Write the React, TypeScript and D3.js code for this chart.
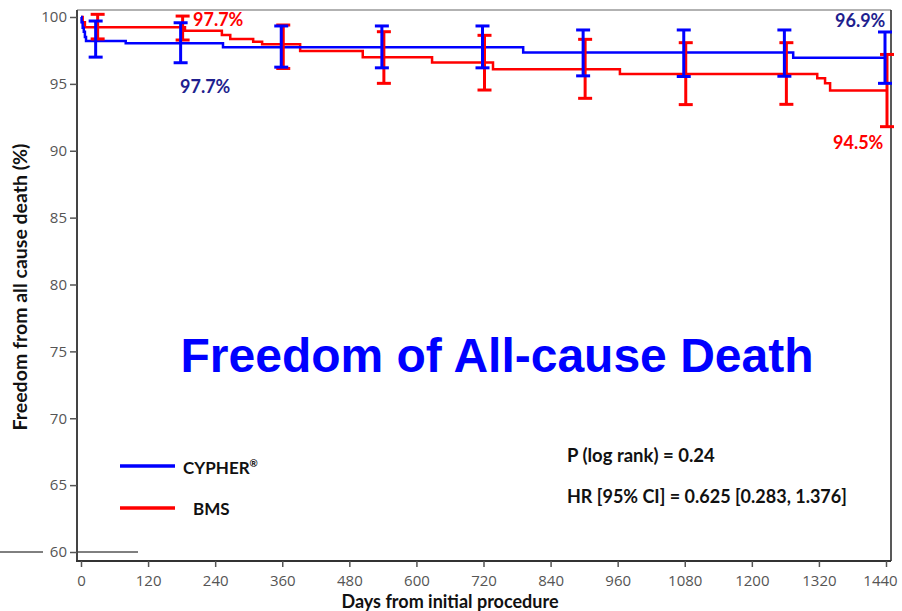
import { useEffect, useRef } from "react";
import * as d3 from "d3";

// tick values
const dayTicks = [0, 120, 240, 360, 480, 600, 720, 840, 960, 1080, 1200, 1320, 1440];
const pctTicks = [60, 65, 70, 75, 80, 85, 90, 95, 100];

// Kaplan-Meier steps, CYPHER
const cypherDays = [0, 1, 3, 5, 7, 9, 80, 254, 791, 1274, 1440];
const cypherSurv = [100, 99.6, 99.2, 98.9, 98.5, 98.2, 98.03, 97.73, 97.35, 96.95, 96.95];

// Kaplan-Meier steps, BMS
const bmsDays = [0, 3, 7, 186, 252, 267, 308, 324, 392, 504, 628, 737, 964, 1317, 1331, 1340, 1440];
const bmsSurv = [100, 99.6, 99.23, 98.98, 98.65, 98.36, 98.15, 97.96, 97.46, 97.0, 96.6, 96.1, 95.74, 95.42, 95.04, 94.5, 94.5];

// 95% CI bars
const ciDays = [28, 180, 360, 540, 720, 900, 1080, 1260, 1440];
const cypherUpper = [99.7, 99.57, 99.33, 99.33, 99.33, 99.03, 99.03, 99.03, 98.88];
const cypherLower = [97.0, 96.58, 96.25, 96.2, 96.2, 95.6, 95.55, 95.57, 95.04];
const bmsUpper = [100.2, 100.07, 99.4, 98.9, 98.63, 98.33, 98.08, 98.08, 97.2];
const bmsLower = [98.36, 98.28, 96.15, 95.04, 94.54, 93.92, 93.45, 93.47, 91.8];

const BLUE = "#0000ff";
const RED = "#ff0000";
const NAVY = "#1f1f8f";

export default function App() {
  const svgRef = useRef<SVGSVGElement>(null);

  useEffect(() => {
    const svg = d3.select(svgRef.current);
    svg.selectAll("*").remove();

    const x = d3.scaleLinear().domain([0, 1440]).range([81, 886]);
    const y = d3.scaleLinear().domain([60, 100]).range([552, 17]);

    // frame
    svg.append("line").attr("x1", 77).attr("x2", 891).attr("y1", 10).attr("y2", 10)
      .attr("stroke", "#999").attr("stroke-width", 1.5);
    svg.append("line").attr("x1", 891).attr("x2", 891).attr("y1", 10).attr("y2", 561)
      .attr("stroke", "#222").attr("stroke-width", 1.5);
    svg.append("line").attr("x1", 77).attr("x2", 77).attr("y1", 10).attr("y2", 562)
      .attr("stroke", "#444").attr("stroke-width", 2);
    svg.append("line").attr("x1", 76).attr("x2", 891).attr("y1", 561).attr("y2", 561)
      .attr("stroke", "#333").attr("stroke-width", 2);

    // stray line at bottom left
    svg.append("line").attr("x1", 0).attr("x2", 43).attr("y1", 552).attr("y2", 552)
      .attr("stroke", "#000").attr("stroke-width", 1);
    svg.append("line").attr("x1", 78).attr("x2", 138).attr("y1", 552).attr("y2", 552)
      .attr("stroke", "#000").attr("stroke-width", 1);

    // axes
    const yAxis = svg.append("g").attr("transform", "translate(77,0)")
      .call(d3.axisLeft(y).tickValues(pctTicks).tickSize(7).tickPadding(3));
    const xAxis = svg.append("g").attr("transform", "translate(0,561)")
      .call(d3.axisBottom(x).tickValues(dayTicks).tickFormat(d3.format("d")).tickSize(6).tickPadding(8));
    [yAxis, xAxis].forEach((g) => {
      g.select(".domain").remove();
      g.selectAll("line").attr("stroke", "#555").attr("stroke-width", 1.5);
      g.selectAll("text")
        .attr("fill", "#555")
        .attr("font-family", "Open Sans")
        .attr("font-size", 15);
    });
    // keep the last day label inside the page
    xAxis.selectAll<SVGTextElement, number>("text")
      .filter((d) => d === 1440)
      .attr("dx", -6);

    // curves
    const line = d3.line<[number, number]>()
      .x((d) => x(d[0]))
      .y((d) => y(d[1]))
      .curve(d3.curveStepAfter);
    const bmsPts = bmsDays.map((d, i) => [d, bmsSurv[i]] as [number, number]);
    const cypherPts = cypherDays.map((d, i) => [d, cypherSurv[i]] as [number, number]);

    svg.append("path").attr("d", line(bmsPts)).attr("fill", "none")
      .attr("stroke", RED).attr("stroke-width", 2.5);
    svg.append("path").attr("d", line(cypherPts)).attr("fill", "none")
      .attr("stroke", BLUE).attr("stroke-width", 2.5);

    // error bars
    const bars = (upper: number[], lower: number[], color: string, dx: number) => {
      const g = svg.append("g").attr("stroke", color).attr("stroke-width", 3);
      ciDays.forEach((d, i) => {
        const cx = x(d) + dx;
        g.append("line").attr("x1", cx).attr("x2", cx).attr("y1", y(upper[i])).attr("y2", y(lower[i]));
        g.append("line").attr("x1", cx - 7).attr("x2", cx + 7).attr("y1", y(upper[i])).attr("y2", y(upper[i]));
        g.append("line").attr("x1", cx - 7).attr("x2", cx + 7).attr("y1", y(lower[i])).attr("y2", y(lower[i]));
      });
    };
    bars(bmsUpper, bmsLower, RED, 1);
    bars(cypherUpper, cypherLower, BLUE, -1);

    // percent labels
    const pct = (t: string, px: number, py: number, color: string) =>
      svg.append("text").attr("x", px).attr("y", py).text(t)
        .attr("fill", color).attr("font-family", "Lato").attr("font-weight", "bold")
        .attr("font-size", 18);
    pct("97.7%", 193, 26, RED);
    pct("97.7%", 180, 93, NAVY);
    pct("96.9%", 835, 27, NAVY);
    pct("94.5%", 833, 149, RED);

    // title
    svg.append("text").attr("x", 497).attr("y", 372).attr("text-anchor", "middle")
      .attr("font-family", "Liberation Sans").attr("font-weight", "bold")
      .attr("font-size", 48).attr("fill", BLUE).text("Freedom of All-cause Death");

    // axis titles
    svg.append("text").attr("transform", "translate(27,287) rotate(-90)")
      .attr("text-anchor", "middle").attr("font-family", "Lato").attr("font-weight", "bold")
      .attr("font-size", 19.5).attr("fill", "#111").text("Freedom from all cause death (%)");
    svg.append("text").attr("x", 450).attr("y", 608).attr("text-anchor", "middle")
      .attr("font-family", "Lato").attr("font-weight", "bold")
      .attr("font-size", 18).attr("fill", "#111").text("Days from initial procedure");

    // legend
    svg.append("line").attr("x1", 120).attr("x2", 175).attr("y1", 466).attr("y2", 466)
      .attr("stroke", BLUE).attr("stroke-width", 3.5);
    svg.append("line").attr("x1", 120).attr("x2", 175).attr("y1", 508).attr("y2", 508)
      .attr("stroke", RED).attr("stroke-width", 3.5);
    const cy = svg.append("text").attr("x", 183).attr("y", 474)
      .attr("font-family", "Lato").attr("font-weight", "bold").attr("font-size", 17).attr("fill", "#111");
    cy.append("tspan").text("CYPHER");
    cy.append("tspan").attr("font-size", 10).attr("dy", -7).text("®");
    svg.append("text").attr("x", 193).attr("y", 515)
      .attr("font-family", "Lato").attr("font-weight", "bold").attr("font-size", 17).attr("fill", "#111")
      .text("BMS");

    // stats
    svg.append("text").attr("x", 567).attr("y", 462)
      .attr("font-family", "Lato").attr("font-weight", "bold").attr("font-size", 18.5).attr("fill", "#111")
      .text("P (log rank) = 0.24");
    svg.append("text").attr("x", 567).attr("y", 503)
      .attr("font-family", "Lato").attr("font-weight", "bold").attr("font-size", 18).attr("fill", "#111")
      .text("HR [95% CI] = 0.625 [0.283, 1.376]");
  }, []);

  return (
    <svg
      ref={svgRef}
      width={902}
      height={611}
      style={{ position: "absolute", left: 0, top: 0, background: "#fff" }}
    />
  );
}
